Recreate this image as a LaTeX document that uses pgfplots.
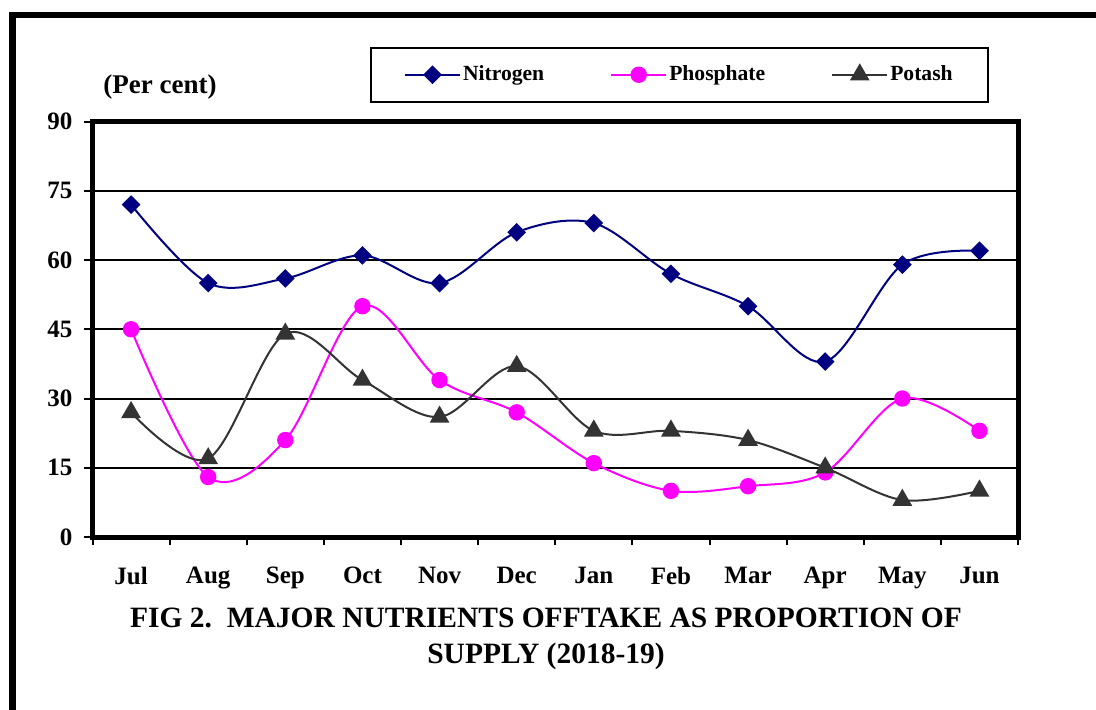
\documentclass[border=0pt]{standalone}
\usepackage{pgfplots}
\pgfplotsset{compat=1.18}
\usepackage{fontspec}
\setmainfont{Liberation Serif}
\definecolor{nitro}{HTML}{000080}
\definecolor{phos}{HTML}{FF00FF}
\definecolor{pot}{HTML}{333333}
\begin{document}
\begin{tikzpicture}
\useasboundingbox (0,0) rectangle (548pt,-355pt);
\draw[line width=3.3pt, line cap=butt, line join=miter] (6.35pt,-356pt) -- (6.35pt,-7.5pt) -- (549pt,-7.5pt);
\node[anchor=base west, inner sep=0pt, font=\fontsize{13.5}{16}\selectfont\bfseries] at (51.5pt,-47pt) {(Per cent)};
\node[anchor=base, inner sep=0pt, align=center, font=\fontsize{14.75}{18}\selectfont\bfseries] at (273pt,-331.5pt) {FIG 2.\ \ MAJOR NUTRIENTS OFFTAKE AS PROPORTION OF\\SUPPLY (2018-19)};
\begin{axis}[
  at={(46.25pt,-268.5pt)}, anchor=south west,
  scale only axis, width=462.75pt, height=207.75pt,
  xmin=-0.5, xmax=11.5, ymin=0, ymax=90,
  xtick={0,...,11},
  xticklabels={Jul,Aug,Sep,Oct,Nov,Dec,Jan,Feb,Mar,Apr,May,Jun},
  minor xtick={-0.5,0.5,...,11.5},
  ytick={0,15,...,90},
  tick align=outside,
  xtick pos=bottom, ytick pos=left,
  axis line style={line width=2.5pt},
  major tick length=4.5pt,
  minor tick length=4pt,
  x tick style={draw=none},
  minor x tick style={draw=black, line width=1pt},
  y tick style={line width=1pt, black},
  ymajorgrids, grid style={line width=1pt, black},
  /pgf/number format/assume math mode=true,
  tick label style={font=\fontsize{12.5}{15}\selectfont\bfseries},
  xticklabel style={yshift=-7pt},
  yticklabel style={xshift=-2pt},
  legend columns=3,
  legend style={at={(rel axis cs:0.2999,1.18)}, anchor=north west, draw=black, line width=1pt,
    font=\fontsize{10.8}{12}\selectfont\bfseries, inner xsep=16.5pt, inner ysep=7pt,
    nodes={inner xsep=1pt},
    /tikz/every even column/.append style={column sep=32pt}},
  legend image code/.code={\draw[#1, mark repeat=2, mark phase=2, line width=1pt] plot coordinates {(0pt,0pt) (13.75pt,0pt) (27.5pt,0pt)};},
  every axis plot/.append style={smooth, tension=0.55, line width=1pt},
]
\addplot[color=nitro, mark=square*, mark size=2.8pt, mark options={rotate=45, fill=nitro, draw=nitro}] coordinates {
(0,72) (1,55) (2,56) (3,61) (4,55) (5,66) (6,68) (7,57) (8,50) (9,38) (10,59) (11,62)};
\addlegendentry{Nitrogen}
\addplot[color=phos, mark=*, mark size=3.6pt, mark options={fill=phos, draw=phos}] coordinates {
(0,45) (1,13) (2,21) (3,50) (4,34) (5,27) (6,16) (7,10) (8,11) (9,14) (10,30) (11,23)};
\addlegendentry{Phosphate}
\addplot[color=pot, mark=triangle*, mark size=4.7pt, mark options={fill=pot, draw=pot}] coordinates {
(0,27) (1,17) (2,44) (3,34) (4,26) (5,37) (6,23) (7,23) (8,21) (9,15) (10,8) (11,10)};
\addlegendentry{Potash}
\end{axis}
\end{tikzpicture}
\end{document}
